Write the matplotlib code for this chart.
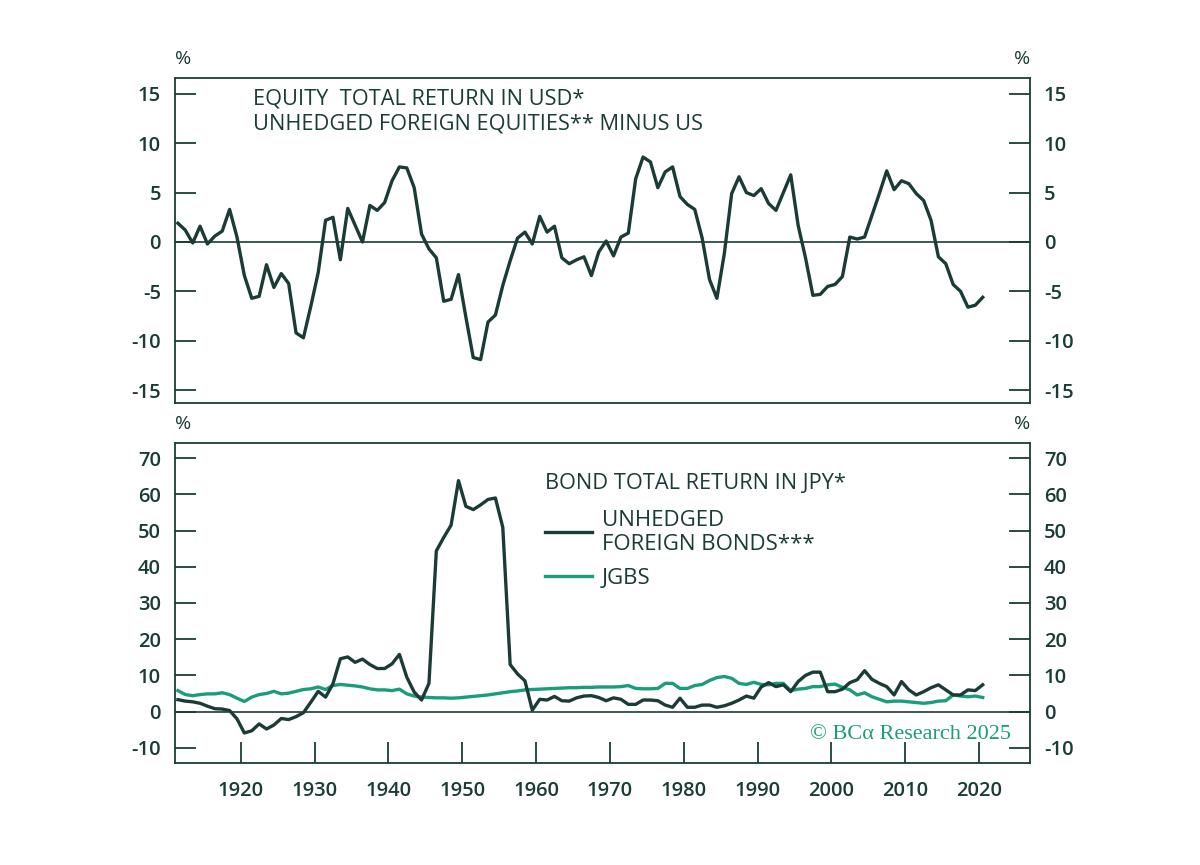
import numpy as np
import matplotlib
matplotlib.use("Agg")
import matplotlib.pyplot as plt

# annual data, 1911-2020
years = np.arange(1911, 2021)

equity_rel = [
    1.9, 1.2, -0.1, 1.6, -0.2, 0.6, 1.1, 3.3, 0.5, -3.4,          # 1911-1920
    -5.7, -5.5, -2.3, -4.6, -3.2, -4.2, -9.2, -9.7, -6.5, -3.1,   # 1921-1930
    2.2, 2.5, -1.8, 3.4, 1.7, 0.0, 3.7, 3.2, 4.0, 6.2,            # 1931-1940
    7.6, 7.5, 5.5, 0.8, -0.7, -1.6, -6.0, -5.8, -3.3, -7.6,       # 1941-1950
    -11.7, -11.9, -8.1, -7.4, -4.4, -1.9, 0.4, 1.0, -0.2, 2.6,    # 1951-1960
    1.0, 1.6, -1.6, -2.2, -1.8, -1.5, -3.4, -1.0, 0.1, -1.4,      # 1961-1970
    0.5, 0.9, 6.4, 8.6, 8.1, 5.5, 7.1, 7.6, 4.6, 3.8,             # 1971-1980
    3.3, 0.4, -3.8, -5.7, -1.2, 4.9, 6.6, 5.0, 4.7, 5.4,          # 1981-1990
    3.9, 3.2, 5.0, 6.8, 1.7, -1.6, -5.4, -5.3, -4.5, -4.3,        # 1991-2000
    -3.5, 0.5, 0.3, 0.5, 2.7, 4.9, 7.2, 5.3, 6.2, 5.9,            # 2001-2010
    4.9, 4.2, 2.2, -1.5, -2.2, -4.3, -5.0, -6.6, -6.4, -5.6,      # 2011-2020
]

foreign_bonds = [
    3.3, 2.9, 2.7, 2.3, 1.5, 0.8, 0.7, 0.3, -2.0, -5.9,           # 1911-1920
    -5.3, -3.4, -4.8, -3.7, -1.9, -2.2, -1.4, -0.3, 2.6, 5.6,     # 1921-1930
    4.0, 7.7, 14.6, 15.1, 13.6, 14.5, 13.0, 11.9, 11.9, 13.2,     # 1931-1940
    15.8, 9.5, 5.4, 3.2, 7.8, 44.4, 48.1, 51.5, 63.8, 56.7,       # 1941-1950
    55.8, 57.1, 58.6, 59.0, 50.9, 13.0, 10.4, 8.5, 0.4, 3.4,      # 1951-1960
    3.2, 4.2, 3.0, 2.9, 3.8, 4.3, 4.4, 3.9, 3.0, 3.8,             # 1961-1970
    3.4, 2.0, 2.0, 3.2, 3.2, 3.0, 1.8, 1.2, 3.7, 1.2,             # 1971-1980
    1.2, 1.8, 1.8, 1.2, 1.6, 2.3, 3.2, 4.3, 3.7, 6.8,             # 1981-1990
    8.0, 6.9, 7.4, 5.5, 8.3, 10.0, 10.9, 10.9, 5.5, 5.5,          # 1991-2000
    6.2, 8.0, 8.8, 11.3, 8.9, 7.8, 6.9, 4.6, 8.3, 6.0,            # 2001-2010
    4.6, 5.5, 6.6, 7.4, 6.0, 4.6, 4.6, 6.0, 5.8, 7.4,             # 2011-2020
]

jgbs = [
    5.8, 4.7, 4.4, 4.7, 4.9, 4.9, 5.2, 4.7, 3.7, 2.8,             # 1911-1920
    4.0, 4.7, 5.0, 5.6, 4.9, 5.1, 5.6, 6.1, 6.3, 6.8,             # 1921-1930
    6.1, 7.2, 7.5, 7.3, 7.1, 6.8, 6.3, 6.0, 6.0, 5.8,             # 1931-1940
    6.2, 4.9, 4.3, 4.0, 3.9, 3.8, 3.8, 3.7, 3.8, 4.0,             # 1941-1950
    4.2, 4.4, 4.6, 4.9, 5.2, 5.5, 5.7, 6.0, 6.1, 6.2,             # 1951-1960
    6.3, 6.4, 6.5, 6.6, 6.6, 6.7, 6.7, 6.8, 6.8, 6.8,             # 1961-1970
    6.9, 7.2, 6.4, 6.3, 6.3, 6.4, 7.8, 7.8, 6.4, 6.4,             # 1971-1980
    7.2, 7.5, 8.6, 9.4, 9.7, 9.2, 7.8, 7.5, 8.1, 7.5,             # 1981-1990
    7.4, 7.8, 7.8, 5.8, 6.2, 6.4, 6.9, 6.9, 7.4, 7.6,             # 1991-2000
    6.7, 6.0, 4.6, 5.2, 4.1, 3.4, 2.7, 2.9, 2.9, 2.7,             # 2001-2010
    2.5, 2.3, 2.5, 2.9, 3.0, 4.6, 4.3, 4.1, 4.3, 3.9,             # 2011-2020
]

top_ticks = [-15, -10, -5, 0, 5, 10, 15]
bottom_ticks = [-10, 0, 10, 20, 30, 40, 50, 60, 70]
decades = list(range(1920, 2030, 10))

DARK = "#1b3b37"
GREEN = "#1a9d7b"

plt.rcParams["font.family"] = ["Open Sans", "DejaVu Sans"]
plt.rcParams["text.color"] = DARK
plt.rcParams["axes.unicode_minus"] = False

fig = plt.figure(figsize=(12, 8.65), dpi=100)
ax1 = fig.add_axes([0.1458, 0.5341, 0.7125, 0.3757])
ax2 = fig.add_axes([0.1458, 0.1179, 0.7125, 0.3700])

x = years + 0.5  # plot annual values mid-year

for ax in (ax1, ax2):
    for s in ax.spines.values():
        s.set_color(DARK)
        s.set_linewidth(1.3)
    ax.axhline(0, color=DARK, lw=1.2, zorder=1)
    ax.set_xlim(1911.1, 2026.9)
    ax.tick_params(axis="y", which="both", direction="in", length=15, width=1.3,
                   color=DARK, left=True, right=True, labelleft=True,
                   labelright=True, labelsize=14.5, labelcolor=DARK, pad=10)
    ax.text(0.0, 1.03, "%", transform=ax.transAxes, fontsize=14, ha="left",
            va="bottom", color=DARK)
    ax.text(1.0, 1.03, "%", transform=ax.transAxes, fontsize=14, ha="right",
            va="bottom", color=DARK)

# top panel
ax1.plot(x, equity_rel, color=DARK, lw=2.4, zorder=3)
ax1.set_ylim(-16.3, 16.6)
ax1.set_yticks(top_ticks)
ax1.set_xticks([])
ax1.text(0.091, 0.935, "EQUITY  TOTAL RETURN IN USD*", transform=ax1.transAxes,
         fontsize=15.7, va="center", ha="left", color=DARK)
ax1.text(0.091, 0.857, "UNHEDGED FOREIGN EQUITIES** MINUS US",
         transform=ax1.transAxes, fontsize=15.7, va="center", ha="left",
         color=DARK)

# bottom panel
l1, = ax2.plot(x, foreign_bonds, color=DARK, lw=2.4, zorder=3,
               label="UNHEDGED\nFOREIGN BONDS***")
l2, = ax2.plot(x, jgbs, color=GREEN, lw=2.4, zorder=2, label="JGBS")
ax2.set_ylim(-14.2, 74.2)
ax2.set_yticks(bottom_ticks)
ax2.set_xticks(decades)
ax2.tick_params(axis="x", direction="in", length=15, width=1.3, color=DARK,
                labelsize=14.5, labelcolor=DARK, pad=13)

for ax in (ax1, ax2):
    for lab in ax.get_yticklabels() + ax.get_xticklabels():
        lab.set_fontweight("semibold")

leg = ax2.legend(handles=[l1, l2], title="BOND TOTAL RETURN IN JPY*",
                 loc="upper left", bbox_to_anchor=(0.433, 0.905),
                 frameon=False, fontsize=16, title_fontsize=15.7,
                 alignment="left", handlelength=2.1, handletextpad=0.45,
                 labelspacing=0.6, borderaxespad=0, borderpad=0)
for t in leg.get_texts():
    t.set_color(DARK)
leg.get_title().set_color(DARK)
leg._legend_box.sep = 11

ax2.text(0.978, 0.09, "\u00a9 BC\u03b1 Research 2025", transform=ax2.transAxes,
         fontsize=16, ha="right", va="center", color=GREEN,
         family=["Liberation Serif", "DejaVu Serif"])

fig.savefig("out.png", dpi=100, facecolor="white")
